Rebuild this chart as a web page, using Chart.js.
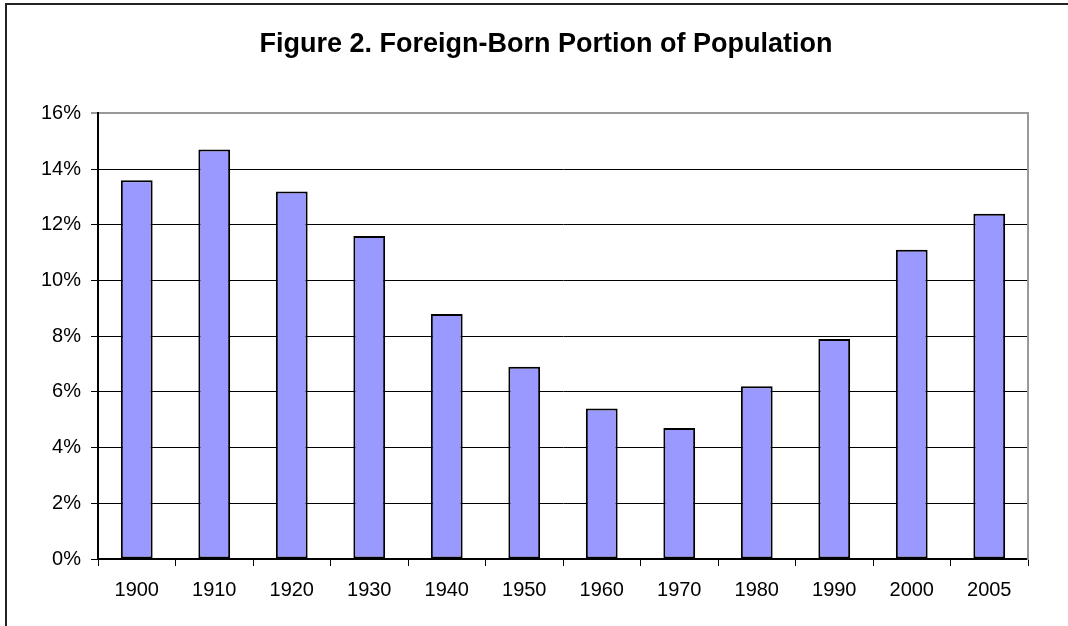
<!DOCTYPE html>
<html>
<head>
<meta charset="utf-8">
<script src="https://cdn.jsdelivr.net/npm/chart.js@4"></script>
<style>
    body { margin: 0; background: #fff; }
    #wrap { position: relative; width: 1068px; height: 626px; }
    #frame { position: absolute; left: 5px; top: 3px; right: -10px; bottom: -10px;
             border-left: 2px solid #222; border-top: 2px solid #222; pointer-events: none; }
</style>
</head>
<body>
<div id="wrap">
    <canvas id="foreignBornChart" width="1068" height="626"></canvas>
    <div id="frame"></div>
</div>
<script>
const years = ['1900', '1910', '1920', '1930', '1940', '1950', '1960', '1970', '1980', '1990', '2000', '2005'];
const foreignBornPct = [13.6, 14.7, 13.2, 11.6, 8.8, 6.9, 5.4, 4.7, 6.2, 7.9, 11.1, 12.4];
const yTickLabels = ['0%', '2%', '4%', '6%', '8%', '10%', '12%', '14%', '16%'];

document.addEventListener('DOMContentLoaded', function () {

    // Foreign-born share chart
    const ctx = document.getElementById('foreignBornChart');
    new Chart(ctx, {
        type: 'bar',
        data: {
            labels: years,
            datasets: [{
                label: 'Foreign-Born',
                data: foreignBornPct,
                backgroundColor: '#9999FF',
                borderColor: '#000000',
                borderWidth: 2,
                borderSkipped: false,
                barPercentage: 0.41,
                categoryPercentage: 1.0,
            }]
        },
        options: {
            responsive: false,
            animation: false,
            layout: {
                padding: { left: 41, right: 17, top: 0, bottom: 12 }
            },
            plugins: {
                legend: { display: false },
                tooltip: { enabled: false },
                title: {
                    display: true,
                    text: 'Figure 2. Foreign-Born Portion of Population',
                    color: '#000',
                    font: { family: 'Liberation Sans, Arial, sans-serif', size: 27, weight: 'bold' },
                    padding: { top: 28, bottom: 53 }
                }
            },
            scales: {
                x: {
                    grid: {
                        drawOnChartArea: false,
                        color: '#000',
                        tickLength: 7,
                        offset: true,
                    },
                    border: { color: '#000', width: 2 },
                    ticks: {
                        color: '#000',
                        padding: 12,
                        font: { family: 'Liberation Sans, Arial, sans-serif', size: 20 }
                    }
                },
                y: {
                    min: 0,
                    max: 16,
                    afterFit: function (scale) { scale.width = 57; },
                    grid: {
                        color: ctx => ctx.tick && ctx.tick.value === 16 ? '#999' : '#000',
                        lineWidth: ctx => ctx.tick && ctx.tick.value === 16 ? 2 : 1,
                        tickLength: 7,
                    },
                    border: { color: '#000', width: 2 },
                    ticks: {
                        stepSize: 2,
                        color: '#000',
                        padding: 10,
                        font: { family: 'Liberation Sans, Arial, sans-serif', size: 20 },
                        callback: (v, i) => yTickLabels[i]
                    }
                },
                yRight: {
                    position: 'right',
                    min: 0,
                    max: 16,
                    afterFit: function (scale) { scale.width = 23; },
                    grid: { drawOnChartArea: false, drawTicks: false },
                    border: { color: '#999', width: 2 },
                    ticks: { display: false }
                }
            }
        }
    });

});
</script>
</body>
</html>
